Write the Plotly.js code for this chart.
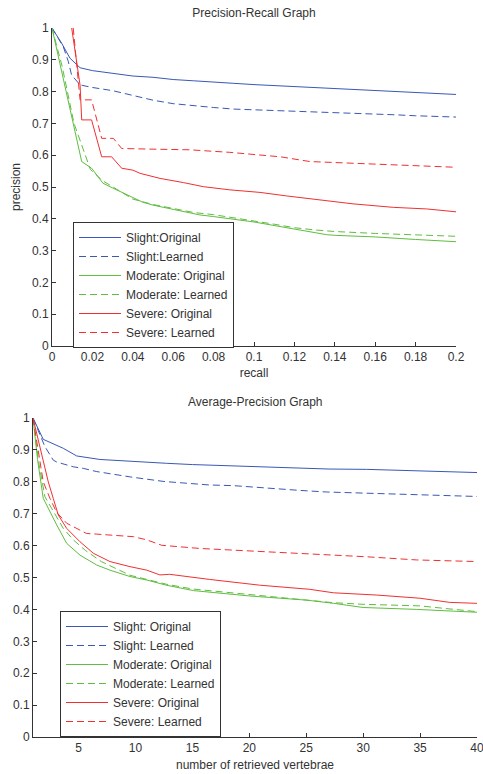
<!DOCTYPE html>
<html>
<head>
<meta charset="utf-8">
<script src="https://cdn.plot.ly/plotly-3.0.1.min.js"></script>
<style>html,body{margin:0;padding:0;background:#fff;}#chart{width:483px;height:774px;}</style>
</head>
<body>
<div id="chart"></div>
<script>
// ---------- Precision-Recall Graph data ----------
const prSlightOrigX = [0, 0.0048, 0.0089, 0.0139, 0.02, 0.03, 0.04, 0.05, 0.06, 0.07, 0.08, 0.09, 0.1, 0.11, 0.12, 0.13, 0.14, 0.15, 0.16, 0.17, 0.18, 0.19, 0.2];
const prSlightOrigY = [1.0, 0.952, 0.905, 0.875, 0.866, 0.858, 0.849, 0.845, 0.838, 0.834, 0.829, 0.826, 0.822, 0.819, 0.815, 0.812, 0.809, 0.806, 0.803, 0.801, 0.798, 0.795, 0.791];
const prSlightLearnX = [0, 0.0056, 0.0081, 0.0097, 0.0139, 0.02, 0.03, 0.04, 0.05, 0.06, 0.07, 0.08, 0.09, 0.1, 0.11, 0.12, 0.13, 0.14, 0.15, 0.16, 0.17, 0.18, 0.19, 0.2];
const prSlightLearnY = [1.0, 0.941, 0.894, 0.852, 0.821, 0.813, 0.803, 0.789, 0.773, 0.762, 0.755, 0.750, 0.745, 0.743, 0.740, 0.738, 0.735, 0.733, 0.731, 0.729, 0.727, 0.724, 0.721, 0.720];
const prModOrigX = [0, 0.005, 0.01, 0.0147, 0.0196, 0.0252, 0.03, 0.037, 0.045, 0.05, 0.06, 0.0733, 0.08, 0.0914, 0.1, 0.109, 0.12, 0.136, 0.14, 0.16, 0.18, 0.2];
const prModOrigY = [1.0, 0.857, 0.715, 0.580, 0.559, 0.512, 0.497, 0.475, 0.452, 0.443, 0.430, 0.412, 0.407, 0.398, 0.390, 0.380, 0.367, 0.350, 0.348, 0.343, 0.335, 0.328];
const prModLearnX = [0, 0.005, 0.0109, 0.0163, 0.019, 0.025, 0.03, 0.04, 0.05, 0.06, 0.07, 0.08, 0.09, 0.1, 0.11, 0.12, 0.13, 0.14, 0.16, 0.18, 0.2];
const prModLearnY = [1.0, 0.88, 0.70, 0.60, 0.555, 0.52, 0.50, 0.462, 0.445, 0.432, 0.42, 0.413, 0.402, 0.393, 0.383, 0.372, 0.365, 0.360, 0.354, 0.350, 0.345];
const prSevOrigX = [0.00975, 0.0139, 0.0147, 0.0196, 0.0246, 0.0295, 0.0345, 0.040, 0.0436, 0.0535, 0.065, 0.0749, 0.0881, 0.103, 0.116, 0.1327, 0.149, 0.169, 0.1855, 0.2];
const prSevOrigY = [1.0, 0.82, 0.711, 0.711, 0.595, 0.595, 0.559, 0.553, 0.543, 0.527, 0.514, 0.501, 0.491, 0.483, 0.472, 0.459, 0.447, 0.436, 0.431, 0.422];
const prSevLearnX = [0.0105, 0.0139, 0.0196, 0.0246, 0.0304, 0.0345, 0.05, 0.068, 0.088, 0.103, 0.113, 0.1277, 0.149, 0.164, 0.182, 0.2];
const prSevLearnY = [1.0, 0.774, 0.774, 0.653, 0.653, 0.621, 0.619, 0.617, 0.609, 0.601, 0.595, 0.580, 0.575, 0.572, 0.566, 0.562];

// ---------- Average-Precision Graph data ----------
const apSlightOrigX = [1, 1.9, 3.66, 4.84, 6.88, 9.81, 12.74, 15, 18.6, 21, 24.45, 27, 30.3, 33, 36.16, 38, 40];
const apSlightOrigY = [1.0, 0.933, 0.905, 0.881, 0.870, 0.863, 0.858, 0.854, 0.850, 0.845, 0.842, 0.840, 0.839, 0.836, 0.834, 0.831, 0.829];
const apSlightLearnX = [1, 2.05, 2.78, 3.08, 4.54, 5.42, 6.6, 9.6, 12.5, 16.5, 18.6, 20.35, 23, 24.45, 26.8, 30.3, 33, 36.16, 40];
const apSlightLearnY = [1.0, 0.91, 0.868, 0.862, 0.847, 0.842, 0.832, 0.815, 0.801, 0.790, 0.788, 0.783, 0.775, 0.773, 0.768, 0.764, 0.762, 0.759, 0.754];
const apModOrigX = [1, 1.4, 1.9, 2.49, 3.08, 3.96, 5.13, 6.6, 7.76, 9.52, 11, 12.7, 15.08, 20.06, 25.04, 27.4, 30, 34.7, 40];
const apModOrigY = [1.0, 0.87, 0.748, 0.706, 0.665, 0.607, 0.57, 0.539, 0.523, 0.503, 0.492, 0.476, 0.459, 0.442, 0.429, 0.419, 0.406, 0.400, 0.391];
const apModLearnX = [1, 1.5, 2.05, 2.78, 3.66, 4.54, 5.6, 7, 9.52, 11, 12.7, 15, 20, 25, 27.4, 30, 35, 38, 40];
const apModLearnY = [1.0, 0.86, 0.753, 0.706, 0.654, 0.618, 0.585, 0.55, 0.507, 0.494, 0.479, 0.464, 0.447, 0.429, 0.421, 0.416, 0.411, 0.400, 0.393];
const apSevOrigX = [1, 1.9, 2.34, 2.78, 3.22, 3.96, 5.13, 6.3, 7.76, 9.52, 11, 12.15, 13.0, 16.5, 20.9, 25.3, 27.4, 31.2, 35, 37.6, 40];
const apSevOrigY = [1.0, 0.863, 0.800, 0.748, 0.696, 0.654, 0.612, 0.576, 0.55, 0.534, 0.523, 0.508, 0.510, 0.494, 0.476, 0.463, 0.452, 0.445, 0.435, 0.422, 0.419];
const apSevLearnX = [1, 1.9, 2.49, 3.08, 3.96, 5.13, 5.7, 6.6, 7.76, 8.93, 9.81, 11, 12.3, 15.67, 21.5, 27.4, 30.3, 34.7, 40];
const apSevLearnY = [1.0, 0.80, 0.748, 0.704, 0.670, 0.649, 0.638, 0.636, 0.633, 0.632, 0.628, 0.618, 0.601, 0.591, 0.581, 0.571, 0.565, 0.555, 0.55];

// ---------- labels / ticks ----------
const prNames = ["Slight:Original", "Slight:Learned", "Moderate: Original", "Moderate: Learned", "Severe: Original", "Severe: Learned"];
const apNames = ["Slight: Original", "Slight: Learned", "Moderate: Original", "Moderate: Learned", "Severe: Original", "Severe: Learned"];
const prXTicks = [0, 0.02, 0.04, 0.06, 0.08, 0.1, 0.12, 0.14, 0.16, 0.18, 0.2];
const yTicks = [0, 0.1, 0.2, 0.3, 0.4, 0.5, 0.6, 0.7, 0.8, 0.9, 1];
const apXTicks = [5, 10, 15, 20, 25, 30, 35, 40];

const BLUE = '#3a58b4', GREEN = '#5fbd40', RED = '#f03030';
const DASH = '7px,4px';
const FONT = 'Liberation Sans, Arial, sans-serif';

function tr(x, y, name, color, dash, xa, ya, leg) {
  return {x: x, y: y, name: name, type: 'scatter', mode: 'lines', xaxis: xa, yaxis: ya, legend: leg,
    line: {color: color, width: 1, dash: dash}, hoverinfo: 'skip'};
}

const data = [
  tr(prSlightOrigX, prSlightOrigY, prNames[0], BLUE, 'solid', 'x', 'y', 'legend'),
  tr(prSlightLearnX, prSlightLearnY, prNames[1], BLUE, DASH, 'x', 'y', 'legend'),
  tr(prModOrigX, prModOrigY, prNames[2], GREEN, 'solid', 'x', 'y', 'legend'),
  tr(prModLearnX, prModLearnY, prNames[3], GREEN, DASH, 'x', 'y', 'legend'),
  tr(prSevOrigX, prSevOrigY, prNames[4], RED, 'solid', 'x', 'y', 'legend'),
  tr(prSevLearnX, prSevLearnY, prNames[5], RED, DASH, 'x', 'y', 'legend'),
  tr(apSlightOrigX, apSlightOrigY, apNames[0], BLUE, 'solid', 'x2', 'y2', 'legend2'),
  tr(apSlightLearnX, apSlightLearnY, apNames[1], BLUE, DASH, 'x2', 'y2', 'legend2'),
  tr(apModOrigX, apModOrigY, apNames[2], GREEN, 'solid', 'x2', 'y2', 'legend2'),
  tr(apModLearnX, apModLearnY, apNames[3], GREEN, DASH, 'x2', 'y2', 'legend2'),
  tr(apSevOrigX, apSevOrigY, apNames[4], RED, 'solid', 'x2', 'y2', 'legend2'),
  tr(apSevLearnX, apSevLearnY, apNames[5], RED, DASH, 'x2', 'y2', 'legend2')
];

const W = 483, H = 774;
const axBase = {showline: true, linecolor: '#333', linewidth: 1, ticks: 'inside', ticklen: 4, tickcolor: '#333',
  showgrid: false, zeroline: false, tickfont: {family: FONT, size: 12, color: '#333'}, fixedrange: true,
  ticklabeloverflow: 'allow'};

const legBase = {bgcolor: '#fff', bordercolor: '#333', borderwidth: 1, font: {family: FONT, size: 12, color: '#333'},
  xanchor: 'left', yanchor: 'top', tracegroupgap: 0, itemwidth: 42, traceorder: 'normal'};

const layout = {
  width: W, height: H,
  margin: {l: 0, r: 0, t: 0, b: 0},
  paper_bgcolor: '#fff', plot_bgcolor: '#fff',
  font: {family: FONT, size: 12, color: '#333'},
  showlegend: true,
  title: {text: 'Precision-Recall Graph', x: 254 / W, xanchor: 'center', y: 1 - 13 / H, yanchor: 'middle',
    font: {family: FONT, size: 12, color: '#333'}},
  xaxis: Object.assign({}, axBase, {domain: [52 / W, 456 / W], anchor: 'y', range: [0, 0.2],
    tickmode: 'array', tickvals: prXTicks,
    title: {text: 'recall', font: {family: FONT, size: 12, color: '#333'}, standoff: 5}}),
  yaxis: Object.assign({}, axBase, {domain: [1 - 346 / H, 1 - 28 / H], anchor: 'x', range: [0, 1],
    tickmode: 'array', tickvals: yTicks,
    title: {text: 'precision', font: {family: FONT, size: 12, color: '#333'}, standoff: 8}}),
  xaxis2: Object.assign({}, axBase, {domain: [33 / W, 477 / W], anchor: 'y2', range: [1, 40],
    tickmode: 'array', tickvals: apXTicks,
    title: {text: 'number of retrieved vertebrae', font: {family: FONT, size: 12, color: '#333'}, standoff: 6}}),
  yaxis2: Object.assign({}, axBase, {domain: [1 - 737 / H, 1 - 418 / H], anchor: 'x2', range: [0, 1],
    tickmode: 'array', tickvals: yTicks}),
  legend: Object.assign({}, legBase, {x: 73 / W, y: 1 - 222 / H}),
  legend2: Object.assign({}, legBase, {x: 60 / W, y: 1 - 611 / H}),
  annotations: [
    {text: 'Average-Precision Graph', xref: 'paper', yref: 'paper', x: 255 / W, y: 1 - 402 / H,
      xanchor: 'center', yanchor: 'middle', showarrow: false, font: {family: FONT, size: 12, color: '#333'}}
  ]
};

Plotly.newPlot('chart', data, layout, {displayModeBar: false, staticPlot: true});
</script>
</body>
</html>
